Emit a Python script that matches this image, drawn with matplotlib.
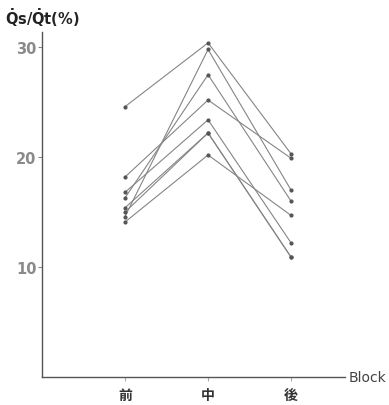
import matplotlib.pyplot as plt

plt.rcParams['font.family'] = ['DejaVu Sans', 'Noto Sans CJK JP']
plt.rcParams['mathtext.fontset'] = 'dejavusans'

blocks = ['前', '中', '後']
# Qs/Qt (%) for each subject at the three blocks
s1 = [24.6, 30.4, 20.3]
s2 = [14.6, 29.8, 17.0]
s3 = [16.3, 27.5, 16.0]
s4 = [18.2, 25.2, 19.9]
s5 = [16.8, 23.4, 12.2]
s6 = [15.4, 22.2, 10.9]
s7 = [14.1, 20.2, 14.7]
s8 = [15.0, 22.2, 10.9]
subjects = [s1, s2, s3, s4, s5, s6, s7, s8]
yticks = [10, 20, 30]

fig = plt.figure(figsize=(3.89, 4.06), dpi=100)
ax = fig.add_axes([0.108, 0.069, 0.779, 0.850])

xpos = [1, 2, 3]
for s in subjects:
    ax.plot(xpos, s, color='#858585', lw=0.8, marker='o', ms=2.0,
            mfc='#555555', mec='#555555')

ax.set_xlim(0, 3.65)
ax.set_ylim(0, 31.4)
ax.set_yticks(yticks)
ax.set_xticks(xpos)
ax.set_xticklabels(blocks, fontsize=10, fontweight='bold', color='#333333')
for lab in ax.get_yticklabels():
    lab.set_fontsize(10.5)
    lab.set_fontweight('bold')
    lab.set_color('#8a8a8a')

for side in ['top', 'right']:
    ax.spines[side].set_visible(False)
for side in ['left', 'bottom']:
    ax.spines[side].set_color('#555555')
    ax.spines[side].set_linewidth(1.0)
ax.tick_params(axis='y', length=3, width=0.8, color='#888888', pad=1)
ax.tick_params(axis='x', length=3, width=0.8, color='#aaaaaa', pad=5)

fig.text(0.013, 0.955, r'$\mathbf{\dot{Q}s/\dot{Q}t(\%)}$', fontsize=10.5,
         color='#222222', va='center', ha='left')
fig.text(0.897, 0.069, 'Block', fontsize=10, color='#444444',
         va='center', ha='left')

fig.savefig('out.png', dpi=100)
